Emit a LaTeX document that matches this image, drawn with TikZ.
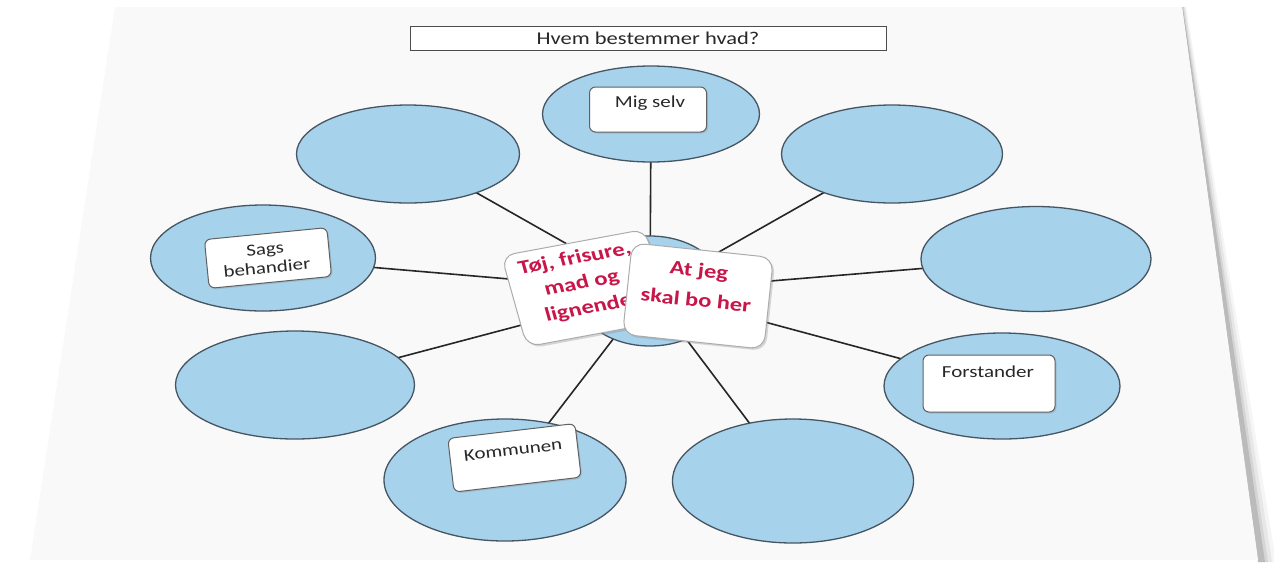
\documentclass[tikz,border=0pt]{standalone}
\usepackage{fontspec}
\setmainfont{Carlito}
\usepackage{graphicx}
\usetikzlibrary{shapes.geometric,calc,shadows}
\definecolor{ellfill}{RGB}{166,210,236}
\definecolor{elldraw}{RGB}{70,85,98}
\definecolor{cardred}{RGB}{200,22,74}
\definecolor{txtgray}{RGB}{40,40,40}
\definecolor{paperc}{RGB}{249,249,249}
\newcommand{\vsq}[1]{\scalebox{1}[0.8]{#1}}
\pgfdeclarelayer{paper}
\pgfdeclarelayer{lines}
\pgfsetlayers{paper,lines,main}
\begin{document}
\begin{tikzpicture}[x=1pt,y=-1pt,
  bubble/.style={ellipse, fill=ellfill, draw=elldraw, line width=1.3pt, inner sep=0pt},
  labelbox/.style={rectangle, rounded corners=6pt, fill=white, draw=gray!75!black, line width=1pt, inner sep=0pt,
    drop shadow={shadow xshift=1.5pt, shadow yshift=-1.5pt, opacity=0.25}},
  card/.style={rectangle, rounded corners=13pt, fill=white, draw=gray!65, line width=1pt, inner sep=0pt,
    drop shadow={shadow xshift=2pt, shadow yshift=-2pt, opacity=0.3}},
  labeltext/.style={text=txtgray, font=\fontsize{21}{19}\selectfont, inner sep=0pt, align=center},
  redtext/.style={text=cardred, font=\fontsize{24.5}{25.5}\selectfont\bfseries, inner sep=0pt, align=center},
  spoke/.style={draw=black!85, line width=1.6pt},
  titlebox/.style={rectangle, fill=white, draw=gray!60!black, line width=1pt, inner sep=0pt,
    text=txtgray, font=\fontsize{22.5}{24}\selectfont}
]
\useasboundingbox (0,0) rectangle (1274,566);

% paper
\begin{pgfonlayer}{paper}
  \foreach \s/\o in {14/0.04,10/0.06,6/0.08,3/0.12}{
    \fill[black,opacity=\o] (1182,7) -- (1182+\s*0.3,7) -- (1262+\s,562) -- (1258,562) -- cycle;
  }
  \fill[paperc] (115,7) -- (1182,7) -- (1258,560) -- (30,560) -- cycle;
\end{pgfonlayer}

% title
\node[titlebox, minimum width=476pt, minimum height=24.5pt] (title) at (648,38.3) {\vsq{Hvem bestemmer hvad?}};

% hub and bubbles
\node[bubble, minimum width=150pt, minimum height=110pt] (hub) at (650,291) {};
\node[bubble, minimum width=217pt, minimum height=96pt]  (etop) at (651,114) {};
\node[bubble, minimum width=223pt, minimum height=98pt]  (etl)  at (408,154) {};
\node[bubble, minimum width=221pt, minimum height=98pt]  (etr)  at (892,154) {};
\node[bubble, minimum width=225pt, minimum height=106pt] (eml)  at (263,258) {};
\node[bubble, minimum width=230pt, minimum height=105pt] (emr)  at (1036,259) {};
\node[bubble, minimum width=239pt, minimum height=108pt] (ell)  at (295,385) {};
\node[bubble, minimum width=236pt, minimum height=106pt] (elr)  at (1002,386) {};
\node[bubble, minimum width=242pt, minimum height=122pt] (ebl)  at (505,480) {};
\node[bubble, minimum width=241pt, minimum height=124pt] (ebr)  at (793,481) {};

% spokes
\begin{pgfonlayer}{lines}
  \foreach \e in {etop,etl,etr,eml,emr,ell,elr,ebl,ebr}{
    \draw[spoke] (hub.center) -- (\e.center);
  }
\end{pgfonlayer}

% label boxes
\node[labelbox, minimum width=117pt, minimum height=45pt] (bmig) at (648,109.5) {};
\node[labeltext] (tmig) at (650,103) {\vsq{Mig selv}};

\node[labelbox, rotate=5.6, minimum width=123pt, minimum height=49pt] (bsags) at (268,258) {};
\node[labeltext, rotate=5.6] (tsags) at (266,258.5) {\vsq{Sags}\\\vsq{behandier}};

\node[labelbox, minimum width=132pt, minimum height=57pt] (bfor) at (989,383.5) {};
\node[labeltext] (tfor) at (988,372) {\vsq{Forstander}};

\node[labelbox, rotate=6.7, minimum width=128pt, minimum height=54pt] (bkom) at (514.5,457.8) {};
\node[labeltext, rotate=6.7] (tkom) at (513,450) {\vsq{Kommunen}};

% center cards
\begin{scope}[shift={(586,288)}, rotate=10.5, xslant=-0.09, transform shape]
  \node[card, minimum width=146pt, minimum height=94pt] (card1) at (0,0) {};
  \node[redtext] (tcard1) at (-3,-5) {\vsq{Tøj, frisure,}\\\vsq{mad og}\\\vsq{lignende}};
\end{scope}

\node[card, rotate=-6, minimum width=142pt, minimum height=92pt] (card2) at (698,296) {};
\node[redtext, rotate=-6, font=\fontsize{24.5}{30}\selectfont\bfseries] (tcard2) at (697.5,285) {\vsq{At jeg}\\\vsq{skal bo her}};
\end{tikzpicture}
\end{document}
